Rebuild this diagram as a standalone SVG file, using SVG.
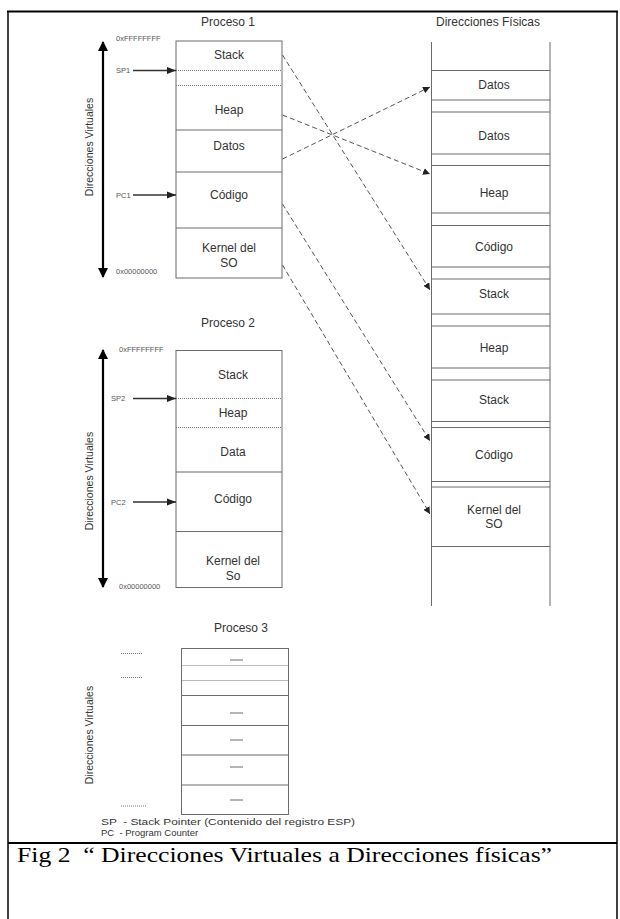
<svg xmlns="http://www.w3.org/2000/svg" width="620" height="919" viewBox="0 0 620 919">
<defs>
<style>
text{font-family:"Liberation Sans",Arial,sans-serif;fill:#333}
.t{font-size:12px;text-anchor:middle}
.s{font-size:7.5px;fill:#555}
.v{font-size:10.5px;text-anchor:middle}
.lg{font-size:9.5px}
.box{fill:none;stroke:#6b6b6b;stroke-width:1}
.ln{stroke:#6b6b6b;stroke-width:1}
.dot{stroke:#777;stroke-width:1;stroke-dasharray:1,1}
.ax{stroke:#000;stroke-width:2.2}
.ptr{stroke:#333;stroke-width:1.5}
.dash{stroke:#555;stroke-width:1;stroke-dasharray:5,3;fill:none}
.cap{font-family:"Liberation Serif","Times New Roman",serif;font-size:22px;fill:#000}
</style>
<marker id="ah" viewBox="0 0 10 10" refX="10" refY="5" markerWidth="7" markerHeight="7" markerUnits="userSpaceOnUse" orient="auto"><path d="M0,0L10,5L0,10z" fill="#222"/></marker>
<marker id="ap" viewBox="0 0 10 10" refX="10" refY="5" markerWidth="9" markerHeight="9" markerUnits="userSpaceOnUse" orient="auto"><path d="M0,1L10,5L0,9z" fill="#222"/></marker>
<marker id="ax" viewBox="0 0 10 10" refX="9" refY="5" markerWidth="10" markerHeight="10" markerUnits="userSpaceOnUse" orient="auto"><path d="M0,0L10,5L0,10z" fill="#000"/></marker>
</defs>
<rect width="620" height="919" fill="#fff"/>
<g id="frame">
<line x1="7" y1="11.5" x2="618" y2="11.5" stroke="#000" stroke-width="2"/>
<line x1="8" y1="11" x2="8" y2="919" stroke="#000" stroke-width="1.5"/>
<line x1="617" y1="11" x2="617" y2="919" stroke="#000" stroke-width="1.5"/>
<line x1="8" y1="843" x2="617" y2="843" stroke="#000" stroke-width="2"/>
</g>

<g id="proceso1">
<text class="t" x="228" y="26">Proceso 1</text>
<rect class="box" x="176" y="41" width="106" height="237"/>
<line class="dot" x1="176" y1="70.5" x2="282" y2="70.5"/>
<line class="dot" x1="176" y1="85.5" x2="282" y2="85.5"/>
<line class="ln" x1="176" y1="130" x2="282" y2="130"/>
<line class="ln" x1="176" y1="172" x2="282" y2="172"/>
<line class="ln" x1="176" y1="228" x2="282" y2="228"/>
<text class="t" x="229" y="59">Stack</text>
<text class="t" x="229" y="114">Heap</text>
<text class="t" x="229" y="150">Datos</text>
<text class="t" x="229" y="199">Código</text>
<text class="t" x="229" y="252">Kernel del</text>
<text class="t" x="229" y="267">SO</text>
<text class="s" x="116" y="41">0xFFFFFFFF</text>
<text class="s" x="116" y="73">SP1</text>
<text class="s" x="116" y="198">PC1</text>
<text class="s" x="116" y="274">0x00000000</text>
<line class="ax" x1="103" y1="160" x2="103" y2="42" marker-end="url(#ax)"/>
<line class="ax" x1="103" y1="160" x2="103" y2="277" marker-end="url(#ax)"/>
<line class="ptr" x1="133" y1="70.5" x2="176" y2="70.5" marker-end="url(#ap)"/>
<line class="ptr" x1="133" y1="195" x2="176" y2="195" marker-end="url(#ap)"/>
<text class="v" transform="translate(92.5 147) rotate(-90)">Direcciones Virtuales</text>
</g>

<g id="fisicas">
<text class="t" x="488" y="26">Direcciones Físicas</text>
<line class="ln" x1="431.5" y1="42" x2="431.5" y2="606"/>
<line class="ln" x1="550" y1="42" x2="550" y2="606"/>
<line class="ln" x1="431.5" y1="70.5" x2="550" y2="70.5"/>
<line class="ln" x1="431.5" y1="100" x2="550" y2="100"/>
<line class="ln" x1="431.5" y1="112" x2="550" y2="112"/>
<line class="ln" x1="431.5" y1="154" x2="550" y2="154"/>
<line class="ln" x1="431.5" y1="165.5" x2="550" y2="165.5"/>
<line class="ln" x1="431.5" y1="213" x2="550" y2="213"/>
<line class="ln" x1="431.5" y1="225.5" x2="550" y2="225.5"/>
<line class="ln" x1="431.5" y1="267" x2="550" y2="267"/>
<line class="ln" x1="431.5" y1="279" x2="550" y2="279"/>
<line class="ln" x1="431.5" y1="314" x2="550" y2="314"/>
<line class="ln" x1="431.5" y1="326" x2="550" y2="326"/>
<line class="ln" x1="431.5" y1="368" x2="550" y2="368"/>
<line class="ln" x1="431.5" y1="380" x2="550" y2="380"/>
<line class="ln" x1="431.5" y1="421.5" x2="550" y2="421.5"/>
<line class="ln" x1="431.5" y1="427.5" x2="550" y2="427.5"/>
<line class="ln" x1="431.5" y1="481.5" x2="550" y2="481.5"/>
<line class="ln" x1="431.5" y1="487" x2="550" y2="487"/>
<line class="ln" x1="431.5" y1="546.5" x2="550" y2="546.5"/>
<text class="t" x="494" y="89">Datos</text>
<text class="t" x="494" y="140">Datos</text>
<text class="t" x="494" y="197">Heap</text>
<text class="t" x="494" y="251">Código</text>
<text class="t" x="494" y="298">Stack</text>
<text class="t" x="494" y="352">Heap</text>
<text class="t" x="494" y="404">Stack</text>
<text class="t" x="494" y="459">Código</text>
<text class="t" x="494" y="514">Kernel del</text>
<text class="t" x="494" y="528">SO</text>
</g>

<g id="connectors">
<line class="dash" x1="282.5" y1="55" x2="430" y2="290" marker-end="url(#ah)"/>
<line class="dash" x1="282.5" y1="115" x2="430" y2="174" marker-end="url(#ah)"/>
<line class="dash" x1="282.5" y1="159" x2="430" y2="87" marker-end="url(#ah)"/>
<line class="dash" x1="282.5" y1="204" x2="430" y2="441" marker-end="url(#ah)"/>
<line class="dash" x1="282.5" y1="265" x2="430" y2="514" marker-end="url(#ah)"/>
</g>

<g id="proceso2">
<text class="t" x="228" y="327">Proceso 2</text>
<rect class="box" x="176" y="350.5" width="106" height="237"/>
<line class="dot" x1="176" y1="398.5" x2="282" y2="398.5"/>
<line class="dot" x1="176" y1="427.5" x2="282" y2="427.5"/>
<line class="ln" x1="176" y1="472" x2="282" y2="472"/>
<line class="ln" x1="176" y1="531.5" x2="282" y2="531.5"/>
<text class="t" x="233" y="379">Stack</text>
<text class="t" x="233" y="417">Heap</text>
<text class="t" x="233" y="456">Data</text>
<text class="t" x="233" y="503">Código</text>
<text class="t" x="233" y="565">Kernel del</text>
<text class="t" x="233" y="580">So</text>
<text class="s" x="119" y="352">0xFFFFFFFF</text>
<text class="s" x="111" y="401">SP2</text>
<text class="s" x="111" y="505">PC2</text>
<text class="s" x="119" y="589">0x00000000</text>
<line class="ax" x1="103" y1="470" x2="103" y2="350" marker-end="url(#ax)"/>
<line class="ax" x1="103" y1="470" x2="103" y2="587" marker-end="url(#ax)"/>
<line class="ptr" x1="133" y1="398.5" x2="176" y2="398.5" marker-end="url(#ap)"/>
<line class="ptr" x1="133" y1="502" x2="176" y2="502" marker-end="url(#ap)"/>
<text class="v" transform="translate(92.5 481) rotate(-90)">Direcciones Virtuales</text>
</g>

<g id="proceso3">
<text class="t" x="241" y="632">Proceso 3</text>
<rect class="box" x="181.5" y="648.5" width="107" height="166"/>
<line class="dot" x1="181.5" y1="665.5" x2="288.5" y2="665.5"/>
<line class="dot" x1="181.5" y1="680.5" x2="288.5" y2="680.5"/>
<line class="ln" x1="181.5" y1="695.5" x2="288.5" y2="695.5"/>
<line class="ln" x1="181.5" y1="725.5" x2="288.5" y2="725.5"/>
<line class="ln" x1="181.5" y1="755" x2="288.5" y2="755"/>
<line class="ln" x1="181.5" y1="785" x2="288.5" y2="785"/>
<line class="ln" x1="230" y1="660" x2="243" y2="660"/>
<line class="ln" x1="230" y1="713" x2="243" y2="713"/>
<line class="ln" x1="230" y1="740" x2="243" y2="740"/>
<line class="ln" x1="230" y1="767" x2="243" y2="767"/>
<line class="ln" x1="230" y1="800" x2="243" y2="800"/>
<line class="dot" x1="121" y1="653.5" x2="143" y2="653.5"/>
<line class="dot" x1="121" y1="677.5" x2="143" y2="677.5"/>
<line class="dot" x1="121" y1="806" x2="146" y2="806"/>
<text class="v" transform="translate(92.5 735) rotate(-90)">Direcciones Virtuales</text>
</g>

<g id="leyenda">
<text class="lg" x="101" y="825" textLength="254" lengthAdjust="spacingAndGlyphs" xml:space="preserve">SP  - Stack Pointer (Contenido del registro ESP)</text>
<text class="lg" x="101" y="836" xml:space="preserve">PC  - Program Counter</text>
</g>

<g id="caption">
<text class="cap" x="17" y="862" textLength="535" lengthAdjust="spacingAndGlyphs" xml:space="preserve">Fig 2  “ Direcciones Virtuales a Direcciones físicas”</text>
</g>
</svg>
